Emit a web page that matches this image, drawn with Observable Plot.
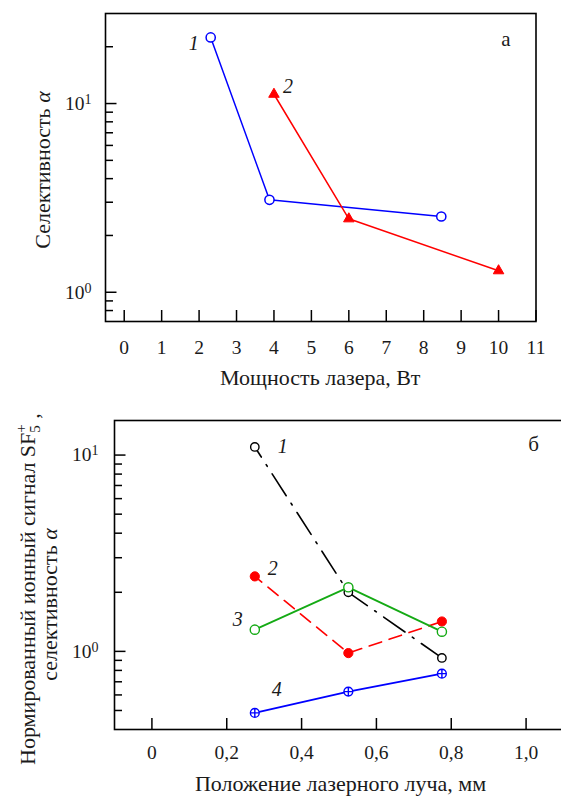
<!DOCTYPE html>
<html>
<head>
<meta charset="utf-8">
<script src="https://cdn.jsdelivr.net/npm/d3@7"></script>
<script src="https://cdn.jsdelivr.net/npm/@observablehq/plot@0.6"></script>
<style>
  html, body { margin: 0; padding: 0; background: #fff; overflow: hidden; }
  #chart { width: 561px; overflow: hidden; }
  #chart svg { display: block; max-width: none !important; font-family: "Liberation Serif", "Times New Roman", serif !important; }
</style>
</head>
<body>
<div id="chart"></div>
<script>
// Panel а: selectivity versus laser power
const powerTicks = [0, 1, 2, 3, 4, 5, 6, 7, 8, 9, 10, 11];
const power1 = [2.31, 3.88, 8.47];
const selectivity1 = [22.4, 3.09, 2.52];
const power2 = [4.0, 6.0, 10.0];
const selectivity2 = [11.2, 2.45, 1.30];

// Panel б: normalised SF5+ signal and selectivity versus beam position
const positionTicks = [0, 0.2, 0.4, 0.6, 0.8, 1.0];
const position = [0.275, 0.525, 0.775];
const curve1 = [11.0, 2.0, 0.926];
const curve2 = [2.41, 0.98, 1.42];
const curve3 = [1.29, 2.12, 1.26];
const curve4 = [0.486, 0.624, 0.77];

// log-axis ticks
const decadeTicks = [1, 10];
const minorTicksA = [0.8, 0.9, 2, 3, 4, 5, 6, 7, 8, 9, 20];
const minorTicksB = [0.5, 0.6, 0.7, 0.8, 0.9, 2, 3, 4, 5, 6, 7, 8, 9];

const zip = (xs, ys) => xs.map((x, i) => ({x, y: ys[i]}));
const seriesA1 = zip(power1, selectivity1);
const seriesA2 = zip(power2, selectivity2);
const seriesB1 = zip(position, curve1);
const seriesB2 = zip(position, curve2);
const seriesB3 = zip(position, curve3);
const seriesB4 = zip(position, curve4);

const svgStyle = "font-family: 'Liberation Serif', 'Times New Roman', serif; background: white; color: black; max-width: none; overflow: visible;";
const BLUE = "#0000ff", RED = "#ff0000", GREEN = "#14aa14", BLACK = "#000", INK = "#1a1a1a";
const tickFont = 19.5, titleFont = 22, labelFont = 20;

// open circle with a cross inside
const circlePlus = {
  draw(context, size) {
    const r = Math.sqrt(size / Math.PI);
    context.moveTo(r, 0);
    context.arc(0, 0, r, 0, 2 * Math.PI);
    context.moveTo(-r, 0); context.lineTo(r, 0);
    context.moveTo(0, -r); context.lineTo(0, r);
  }
};

function powerOfTen(d) { return "10^" + Math.round(Math.log10(d)); }

function superscriptTicks(svg) {
  d3.select(svg).selectAll("text").each(function () {
    const m = /^10\^(-?\d+)$/.exec(this.textContent);
    if (!m) return;
    const t = d3.select(this);
    t.text("10");
    t.append("tspan").attr("dy", "-0.42em").attr("font-size", "0.72em").text(m[1]);
  });
}

function logTicks(major, minor, plotW, majorLen, minorLen) {
  return [
    Plot.tickY(major, {y: d => d, insetRight: plotW - majorLen, stroke: BLACK, strokeWidth: 1.5}),
    Plot.tickY(minor, {y: d => d, insetRight: plotW - minorLen, stroke: BLACK, strokeWidth: 1.5})
  ];
}

function seriesLabel(data, text, dx, dy) {
  return Plot.text(data, Plot.selectFirst({x: "x", y: "y", text: () => text, dx, dy,
    fontStyle: "italic", fontSize: labelFont, fill: INK}));
}

// ---------- panel а ----------
const A = {width: 561, height: 396, marginLeft: 105, marginRight: 25.5, marginTop: 13, marginBottom: 75};
const wA = A.width - A.marginLeft - A.marginRight;
const hA = A.height - A.marginTop - A.marginBottom;

const svgA = Plot.plot({
  ...A,
  style: svgStyle,
  x: {domain: [-0.5, 11]},
  y: {type: "log", domain: [0.7, 30]},
  marks: [
    Plot.tickX(powerTicks, {x: d => d, insetTop: hA - 11, stroke: BLACK, strokeWidth: 1.5}),
    ...logTicks(decadeTicks, minorTicksA, wA, 11.5, 8),
    Plot.axisX({ticks: powerTicks, tickSize: 0, tickPadding: 19, fontSize: tickFont, label: null, fill: INK}),
    Plot.axisY({ticks: decadeTicks, tickSize: 0, tickPadding: 14, fontSize: tickFont, label: null, fill: INK, tickFormat: powerOfTen}),
    Plot.line(seriesA1, {x: "x", y: "y", stroke: BLUE, strokeWidth: 1.5}),
    Plot.line(seriesA2, {x: "x", y: "y", stroke: RED, strokeWidth: 1.5}),
    Plot.dot(seriesA1, {x: "x", y: "y", r: 4.6, stroke: BLUE, fill: "white", strokeWidth: 1.5}),
    Plot.dot(seriesA2, {x: "x", y: "y", symbol: "triangle", r: 3.9, fill: RED, stroke: RED, strokeWidth: 1}),
    seriesLabel(seriesA1, "1", -17, 6),
    seriesLabel(seriesA2, "2", 14, -8),
    Plot.text(["а"], {frameAnchor: "top-right", text: d => d, dx: -30, dy: 26,
      textAnchor: "middle", lineAnchor: "middle", fontSize: labelFont + 1, fill: INK}),
    Plot.frame({stroke: BLACK, strokeWidth: 1.6})
  ]
});
superscriptTicks(svgA);

const gA = d3.select(svgA);
gA.append("text")
  .attr("x", A.marginLeft + wA / 2).attr("y", A.height - A.marginBottom + 64)
  .attr("text-anchor", "middle").attr("font-size", titleFont).attr("fill", INK)
  .text("Мощность лазера, Вт");
const yTitleA = gA.append("text")
  .attr("transform", `translate(50,${A.marginTop + hA / 2 + 3}) rotate(-90)`)
  .attr("text-anchor", "middle").attr("font-size", titleFont).attr("fill", INK);
yTitleA.append("tspan").text("Селективность ");
yTitleA.append("tspan").attr("font-style", "italic").text("α");

// ---------- panel б ----------
const B = {width: 563, height: 402, marginLeft: 114, marginRight: 0, marginTop: 24, marginBottom: 69};
const wB = B.width - B.marginLeft - B.marginRight;
const hB = B.height - B.marginTop - B.marginBottom;

const svgB = Plot.plot({
  ...B,
  style: svgStyle,
  x: {domain: [-0.1, 1.1]},
  y: {type: "log", domain: [0.4, 15]},
  marks: [
    Plot.tickX(positionTicks, {x: d => d, insetTop: hB - 11, stroke: BLACK, strokeWidth: 1.5}),
    ...logTicks(decadeTicks, minorTicksB, wB, 11.5, 8),
    Plot.axisX({ticks: positionTicks, tickSize: 0, tickPadding: 16, fontSize: tickFont, label: null, fill: INK,
      tickFormat: d => d === 0 ? "0" : d.toFixed(1).replace(".", ",")}),
    Plot.axisY({ticks: decadeTicks, tickSize: 0, tickPadding: 16, fontSize: tickFont, label: null, fill: INK, tickFormat: powerOfTen}),
    Plot.line(seriesB1, {x: "x", y: "y", stroke: BLACK, strokeWidth: 1.6, strokeDasharray: "26 9 2 9", strokeDashoffset: 14}),
    Plot.line(seriesB2, {x: "x", y: "y", stroke: RED, strokeWidth: 1.6, strokeDasharray: "13 8", strokeDashoffset: 4}),
    Plot.line(seriesB3, {x: "x", y: "y", stroke: GREEN, strokeWidth: 1.8}),
    Plot.line(seriesB4, {x: "x", y: "y", stroke: BLUE, strokeWidth: 1.9}),
    Plot.dot(seriesB1, {x: "x", y: "y", r: 4.2, stroke: BLACK, fill: "white", strokeWidth: 1.4}),
    Plot.dot(seriesB2, {x: "x", y: "y", r: 4.6, fill: RED, stroke: RED, strokeWidth: 1}),
    Plot.dot(seriesB3, {x: "x", y: "y", r: 4.6, stroke: GREEN, fill: "white", strokeWidth: 1.4}),
    Plot.dot(seriesB4, {x: "x", y: "y", r: 4.4, symbol: circlePlus, stroke: BLUE, fill: "white", strokeWidth: 1.4}),
    seriesLabel(seriesB1, "1", 28, 0),
    seriesLabel(seriesB2, "2", 18, -8),
    seriesLabel(seriesB3, "3", -17, -10),
    seriesLabel(seriesB4, "4", 22, -23),
    Plot.text(["б"], {frameAnchor: "top-right", text: d => d, dx: -30, dy: 24,
      textAnchor: "middle", lineAnchor: "middle", fontSize: labelFont + 1, fill: INK}),
    Plot.frame({stroke: BLACK, strokeWidth: 1.6})
  ]
});
superscriptTicks(svgB);

const gB = d3.select(svgB);
gB.append("text")
  .attr("x", B.marginLeft + (561 - B.marginLeft) / 2 + 3).attr("y", B.height - 7)
  .attr("text-anchor", "middle").attr("font-size", titleFont).attr("fill", INK)
  .text("Положение лазерного луча, мм");

const yTitleB1 = gB.append("text")
  .attr("transform", `translate(35,${B.height - 33}) rotate(-90)`)
  .attr("text-anchor", "start").attr("font-size", titleFont).attr("fill", INK);
yTitleB1.append("tspan").text("Нормированный ионный сигнал SF");
yTitleB1.append("tspan").attr("font-size", "0.68em").attr("dy", "0.35em").text("5");
yTitleB1.append("tspan").attr("font-size", "0.68em").attr("dx", "-0.5em").attr("dy", "-0.95em").text("+");
yTitleB1.append("tspan").attr("dy", "0.6em").text(" ,");

const yTitleB2 = gB.append("text")
  .attr("transform", `translate(57,${B.marginTop + hB / 2 + 30}) rotate(-90)`)
  .attr("text-anchor", "middle").attr("font-size", titleFont).attr("fill", INK);
yTitleB2.append("tspan").text("селективность ");
yTitleB2.append("tspan").attr("font-style", "italic").text("α");

const chart = document.getElementById("chart");
chart.append(svgA, svgB);
</script>
</body>
</html>
